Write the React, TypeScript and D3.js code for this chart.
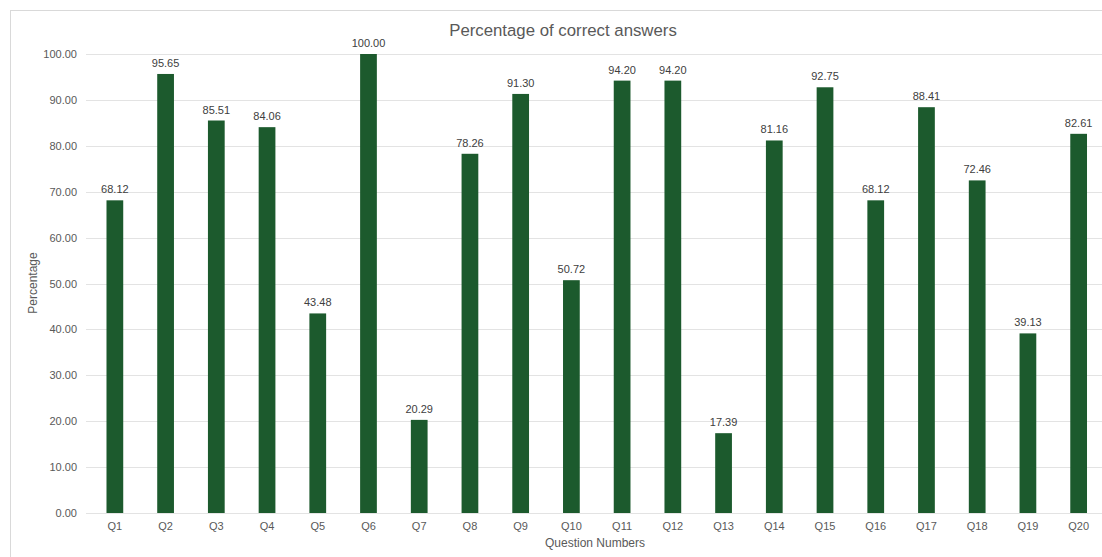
import React from "react";
import * as d3 from "d3";

const categories = ["Q1","Q2","Q3","Q4","Q5","Q6","Q7","Q8","Q9","Q10","Q11","Q12","Q13","Q14","Q15","Q16","Q17","Q18","Q19","Q20"];
const values = [68.12,95.65,85.51,84.06,43.48,100.0,20.29,78.26,91.3,50.72,94.2,94.2,17.39,81.16,92.75,68.12,88.41,72.46,39.13,82.61];
const yTicks = [0,10,20,30,40,50,60,70,80,90,100];

const W = 1102, H = 557;
const left = 89.5, right = 1104, top = 54, bottom = 513;
const FONT = "'Liberation Sans', Arial, sans-serif";

export default function App() {
  const x = d3.scaleBand<string>().domain(categories).range([left, right]).paddingInner(0.67).paddingOuter(0.335);
  const y = d3.scaleLinear().domain([0, 100]).range([bottom, top]);
  return (
    <svg width={W} height={H} style={{ position: "absolute", left: 0, top: 0, background: "#fff" }} fontFamily={FONT}>
      <rect x={10.5} y={10.5} width={1200} height={700} fill="#fff" stroke="#d9d9d9" strokeWidth={1} />
      <text x={563} y={36} textAnchor="middle" fontSize={16.8} fill="#595959">Percentage of correct answers</text>
      {yTicks.map(t => (
        <g key={t}>
          <line x1={86} x2={1102} y1={Math.round(y(t)) + 0.5} y2={Math.round(y(t)) + 0.5} stroke="#e3e3e3" strokeWidth={1} />
          <text x={77} y={y(t) + 4} textAnchor="end" fontSize={11} fill="#595959">{t.toFixed(2)}</text>
        </g>
      ))}
      {categories.map((c, i) => {
        const v = values[i];
        const bx = x(c)!;
        const bw = x.bandwidth();
        return (
          <g key={c}>
            <rect x={bx} y={y(v)} width={bw} height={y(0) - y(v)} fill="#1c5a2d" />
            <text x={bx + bw / 2} y={y(v) - 7} textAnchor="middle" fontSize={11} fill="#404040">{v.toFixed(2)}</text>
            <text x={bx + bw / 2} y={530} textAnchor="middle" fontSize={11} fill="#595959">{c}</text>
          </g>
        );
      })}
      <text transform={`translate(37,283) rotate(-90)`} textAnchor="middle" fontSize={12} fill="#595959">Percentage</text>
      <text x={595} y={547} textAnchor="middle" fontSize={12} fill="#595959">Question Numbers</text>
    </svg>
  );
}
